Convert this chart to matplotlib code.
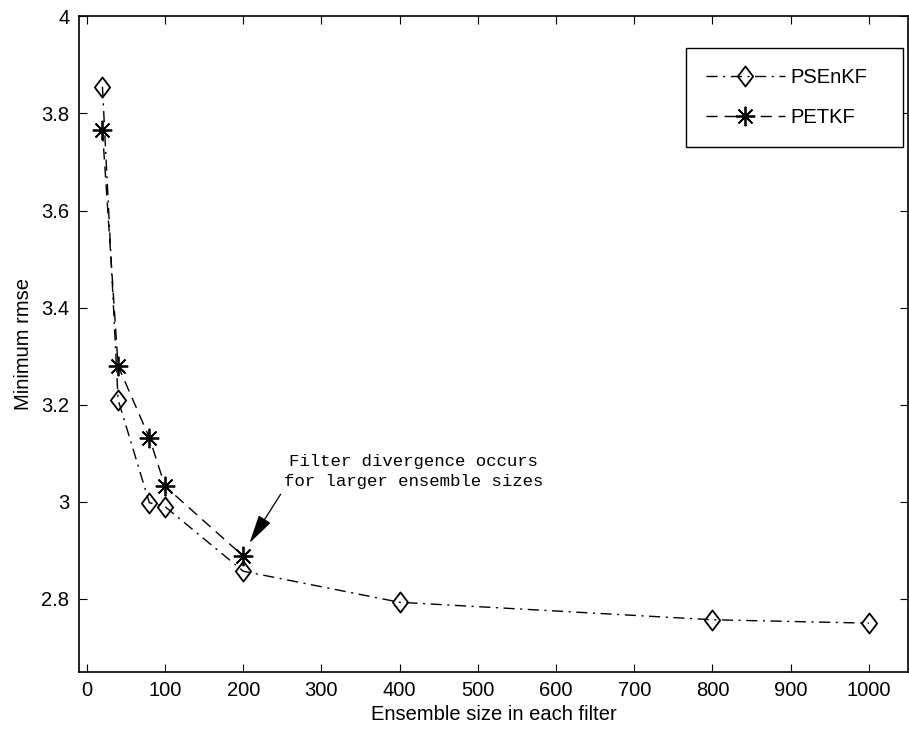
import numpy as np
import matplotlib
matplotlib.use("Agg")
import matplotlib.pyplot as plt
from matplotlib.path import Path

# data
n_psenkf = [20, 40, 80, 100, 200, 400, 800, 1000]
rmse_psenkf = [3.855, 3.21, 2.998, 2.99, 2.857, 2.793, 2.757, 2.75]
n_petkf = [20, 40, 80, 100, 200]
rmse_petkf = [3.765, 3.28, 3.132, 3.032, 2.888]

xticks = list(range(0, 1001, 100))
yticks = [2.8, 3.0, 3.2, 3.4, 3.6, 3.8, 4.0]
ytick_labels = ["2.8", "3", "3.2", "3.4", "3.6", "3.8", "4"]

plt.rcParams['font.family'] = ['Liberation Sans', 'DejaVu Sans']

# matlab-like diamond (a bit taller than wide) and 8 arm asterisk
diamond = Path([(0, 1), (0.76, 0), (0, -1), (-0.76, 0), (0, 1)],
               [Path.MOVETO, Path.LINETO, Path.LINETO, Path.LINETO, Path.CLOSEPOLY])
asterisk = (8, 2, 0)

fig = plt.figure(figsize=(9.09, 7.29), dpi=100)
ax = fig.add_axes([0.0869, 0.0786, 0.912, 0.899])

ax.plot(n_psenkf, rmse_psenkf, color='black', linestyle=(0, (8, 4, 1.5, 4)), lw=1.0,
        marker=diamond, markersize=14.5, markerfacecolor='none',
        markeredgecolor='black', markeredgewidth=1.3, label='PSEnKF')
ax.plot(n_petkf, rmse_petkf, color='black', linestyle=(0, (8, 5)), lw=1.0,
        marker=asterisk, markersize=14, markeredgecolor='black',
        markeredgewidth=1.3, label='PETKF')

# arrow starts at the lower left corner of the text
ax.annotate("Filter divergence occurs\nfor larger ensemble sizes",
            xy=(208, 2.915), xytext=(252, 3.099),
            ha='left', va='top', multialignment='center',
            family=['Liberation Mono', 'DejaVu Sans Mono'], fontsize=12.5,
            linespacing=1.45,
            arrowprops=dict(arrowstyle='-|>,head_length=0.9,head_width=0.22',
                            color='black', lw=0.9, relpos=(0, 0),
                            mutation_scale=20, shrinkA=2, shrinkB=0))

ax.set_xlim(-10, 1050)
ax.set_ylim(2.65, 4)
ax.set_xticks(xticks)
ax.set_yticks(yticks)
ax.set_yticklabels(ytick_labels)
ax.tick_params(direction='in', length=6, width=0.8, top=True, right=True,
               labelsize=14.5, pad=7)
for s in ax.spines.values():
    s.set_linewidth(1.2)

ax.set_xlabel("Ensemble size in each filter", fontsize=14.5, labelpad=3)
ax.set_ylabel("Minimum rmse", fontsize=14.5, labelpad=6)

leg = ax.legend(loc='upper left', bbox_to_anchor=(0.732, 0.952, 0.262, 0.0),
                mode='expand', borderaxespad=0, fontsize=14.5,
                handlelength=3.9, handletextpad=0.3, labelspacing=1.05,
                borderpad=1.0, fancybox=False, framealpha=1,
                edgecolor='black')
leg.get_frame().set_linewidth(1.0)

fig.savefig("out.png", dpi=100)
